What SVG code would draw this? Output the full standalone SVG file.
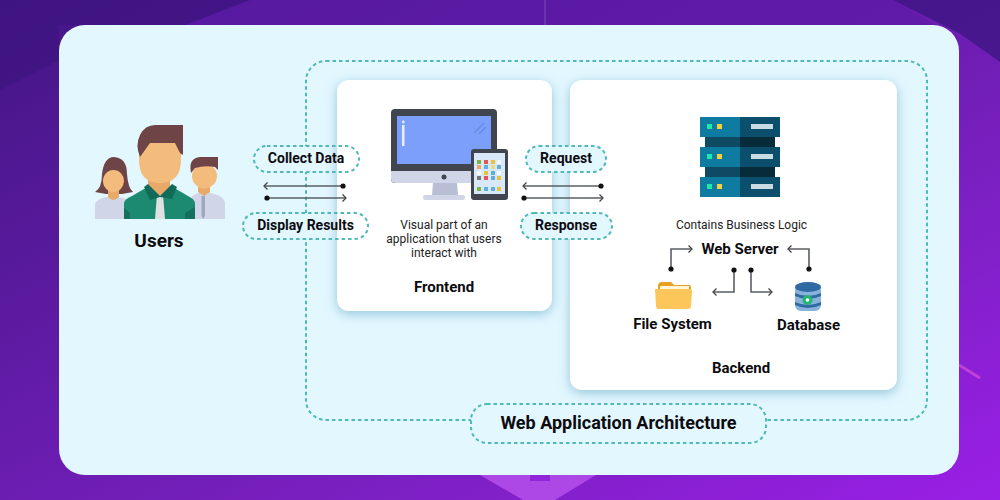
<svg xmlns="http://www.w3.org/2000/svg" width="1000" height="500" viewBox="0 0 1000 500">
<style>
text{font-family:Roboto,"Liberation Sans",sans-serif;fill:#0c0c10;text-anchor:middle}
.b{font-weight:700;font-size:14px}
.m{font-weight:700;font-size:15px}
.n{font-size:12px;fill:#222}
.pf{fill:#e3f7ff}
.ps{fill:none;stroke:#4fb8b8;stroke-width:2;stroke-dasharray:3.500 3}
.c{fill:none;stroke:#5a5f66;stroke-width:1.600}
.card{fill:#fff;filter:url(#sh)}
</style>
<defs>
<linearGradient id="bg" x1="0" y1="0" x2="1" y2="1"><stop offset="0" stop-color="#431685"/><stop offset=".3" stop-color="#5a1a9e"/><stop offset=".7" stop-color="#7d20c4"/><stop offset="1" stop-color="#9a1fe6"/></linearGradient>
<filter id="sh" x="-15%" y="-15%" width="130%" height="130%"><feDropShadow dx="0" dy="3" stdDeviation="6" flood-color="#6fb0cc" flood-opacity=".7"/></filter>
<marker id="dot" markerWidth="6" markerHeight="6" refX="3" refY="3" markerUnits="userSpaceOnUse"><circle cx="3" cy="3" r="2.600" fill="#111"/></marker>
<marker id="arr" markerWidth="8" markerHeight="10" refX="6.500" refY="5" orient="auto-start-reverse" markerUnits="userSpaceOnUse"><path d="M3 1.500L6.500 5L3 8.500" fill="none" stroke="#444" stroke-width="1.300"/></marker>
</defs>
<rect width="1000" height="500" fill="url(#bg)"/>
<path d="M0 0H250L185 25H59V60L0 90Z" fill="#3c1480" opacity=".65"/>
<path d="M893 0H1000V62L959 33Z" fill="#3a1680" opacity=".75"/>
<path d="M250 0H893L935 25H185Z" fill="#5c1ba6" opacity=".7"/>
<path d="M545 0V25" stroke="#7a4bc0" stroke-width="1"/>
<path d="M480 475H596L555 500H523Z" fill="#ad48e6"/>
<path d="M530 475H550V481H530Z" fill="#9026d8"/>
<path d="M959 365L980 378" stroke="#c040d8" stroke-width="3"/>
<rect x="59" y="25" width="900" height="450" rx="26" fill="#e3f7ff"/>
<rect class="ps" x="306" y="61" width="621" height="359" rx="20"/>

<g id="pill-backs">
<rect class="pf" x="254" y="146" width="105" height="26" rx="13"/>
<rect class="pf" x="243" y="213" width="125" height="26" rx="13"/>
</g>
<g id="frontend-card"><rect class="card" x="337" y="80" width="215" height="231" rx="12"/></g>
<g id="backend-card"><rect class="card" x="570" y="80" width="327" height="310" rx="12"/></g>

<g id="users">
<path d="M95 219V204Q97 199 106 197H118Q124 198 128 200V219Z" fill="#d0d6e8"/>
<path d="M95 192Q102 188 102 174Q104 157 114 157Q127 158 127 174Q128 188 133 192L122 194H106Z" fill="#6f4446"/>
<path d="M108 188H119V197Q113 203 108 197Z" fill="#e8a96a"/>
<ellipse cx="113.500" cy="181" rx="10.500" ry="11" fill="#f3bc7d"/>
<path d="M192 219V196L200 192H208L220 196Q225 199 225 204V219Z" fill="#d0d6e8"/>
<path d="M201.500 196H205L205 216L203 219L201.500 216Z" fill="#a0a8c0"/>
<path d="M198 184H210V192L204 196L198 192Z" fill="#e8a96a"/>
<ellipse cx="204.500" cy="176" rx="12.500" ry="12.500" fill="#f3bc7d"/>
<path d="M191 173Q188 158 200 157H218V170L215 167Q205 165 195 168Z" fill="#6f4446"/>
<path d="M124 219V204Q124 199 132 196L144 189H176L188 196Q195 199 195 204V219Z" fill="#1c8a70"/>
<path d="M124 219V208L130 213V219ZM185 219V213L195 207V219Z" fill="#12705c"/>
<path d="M157 195H163L165 219H155Z" fill="#dfe1e3"/>
<path d="M148 175H170V188L160 196L148 188Z" fill="#e8a96a"/>
<path d="M144 187L148 184L160 196L172 184L177 187L172 199L160 197L150 200Z" fill="#126b58"/>
<path d="M139 143H181V160Q181 183 160 183Q139 183 139 160Z" fill="#f3bc7d"/>
<path d="M140 157Q135 145 140 135Q145 125 155 125H183V155L180 153L175 143H150Z" fill="#6e4446"/>
</g>
<text x="159" y="247" style="font-weight:700;font-size:19px">Users</text>

<g id="connectors">
<path class="c" d="M343 186H264" marker-start="url(#dot)" marker-end="url(#arr)"/>
<path class="c" d="M267 198H346" marker-start="url(#dot)" marker-end="url(#arr)"/>
<path class="c" d="M601 186H523" marker-start="url(#dot)" marker-end="url(#arr)"/>
<path class="c" d="M524 198H603" marker-start="url(#dot)" marker-end="url(#arr)"/>
<path class="c" d="M671 269V249H692" marker-start="url(#dot)" marker-end="url(#arr)"/>
<path class="c" d="M809 269V249H788" marker-start="url(#dot)" marker-end="url(#arr)"/>
<path class="c" d="M734 270V292H713" marker-start="url(#dot)" marker-end="url(#arr)"/>
<path class="c" d="M751 270V292H772" marker-start="url(#dot)" marker-end="url(#arr)"/>
</g>

<g id="collect-data"><rect class="ps" x="254" y="146" width="105" height="26" rx="13"/><text class="b" x="306" y="163">Collect Data</text></g>
<g id="display-results"><rect class="ps" x="243" y="213" width="125" height="26" rx="13"/><text class="b" x="305.500" y="230">Display Results</text></g>
<g id="request"><rect class="pf" x="526" y="146" width="80" height="26" rx="13"/><rect class="ps" x="526" y="146" width="80" height="26" rx="13"/><text class="b" x="566" y="163">Request</text></g>
<g id="response"><rect class="pf" x="521" y="213" width="91" height="26" rx="13"/><rect class="ps" x="521" y="213" width="91" height="26" rx="13"/><text class="b" x="566" y="230">Response</text></g>

<g id="monitor">
<rect x="391" y="109" width="106" height="74" rx="4" fill="#41454f"/>
<rect x="397" y="116" width="94" height="48" fill="#7b9ffb"/>
<rect x="402" y="125" width="2.500" height="21" fill="#e8f0ff"/>
<circle cx="403.300" cy="122" r="1.400" fill="#e8f0ff"/>
<path d="M474 133L484 123M479 134L486 127" stroke="#6b8ae0" stroke-width="1.500"/>
<path d="M391 171H497V179Q497 183 492 183H396Q391 183 391 179Z" fill="#d0d6e8"/>
<circle cx="444" cy="177" r="2.500" fill="#41454f"/>
<path d="M433 183H457L458 195H432Z" fill="#b8bed4"/>
<rect x="423" y="195" width="42" height="5" rx="2" fill="#d0d6e8"/>
<rect x="471" y="149" width="37" height="51" rx="3" fill="#41454f"/>
<rect x="474" y="153" width="31" height="41" fill="#d8e8f8"/>
<g fill="#5fb0e0">
<rect x="477" y="160" width="4" height="4" fill="#7cb342"/><rect x="484" y="160" width="4" height="4" fill="#e05555"/><rect x="491" y="160" width="4" height="4" fill="#e8c23c"/><rect x="497" y="160" width="4" height="4" fill="#f4f8fc"/>
<rect x="477" y="165" width="4" height="4" fill="#e8a96a"/><rect x="484" y="165" width="4" height="4"/><rect x="491" y="165" width="4" height="4" fill="#e8d87c"/><rect x="497" y="165" width="4" height="4"/>
<rect x="477" y="171" width="4" height="4" fill="#f4f8fc"/><rect x="484" y="171" width="4" height="4" fill="#e8c23c"/><rect x="491" y="171" width="4" height="4"/><rect x="497" y="171" width="4" height="4" fill="#f4f8fc"/>
<rect x="477" y="176" width="4" height="4" fill="#777"/><rect x="484" y="176" width="4" height="4" fill="#e05555"/><rect x="491" y="176" width="4" height="4"/><rect x="497" y="176" width="4" height="4" fill="#e8c23c"/>
<rect x="477" y="187" width="4" height="4" fill="#7cb342"/><rect x="484" y="187" width="4" height="4"/><rect x="491" y="187" width="4" height="4"/><rect x="497" y="187" width="4" height="4" fill="#e8c23c"/>
</g>
</g>
<text class="n" x="444" y="229">Visual part of an</text>
<text class="n" x="444" y="243">application that users</text>
<text class="n" x="444" y="257">interact with</text>
<text class="m" x="444" y="292">Frontend</text>

<g id="server">
<rect x="705" y="137" width="35" height="10" fill="#0f4a63"/><rect x="740" y="137" width="35" height="10" fill="#082b3a"/>
<rect x="705" y="167" width="35" height="10" fill="#0f4a63"/><rect x="740" y="167" width="35" height="10" fill="#082b3a"/>
<g><rect x="700" y="117" width="40" height="20" fill="#0f7ba1"/><rect x="740" y="117" width="40" height="20" fill="#0c4f6d"/><rect x="707" y="124" width="5" height="5" fill="#1de9a8"/><rect x="717" y="124" width="5" height="5" fill="#f3d03e"/><rect x="751" y="124" width="22" height="5" fill="#c9dbe2"/></g>
<g><rect x="700" y="147" width="40" height="20" fill="#0f7ba1"/><rect x="740" y="147" width="40" height="20" fill="#0c4f6d"/><rect x="707" y="154" width="5" height="5" fill="#1de9a8"/><rect x="717" y="154" width="5" height="5" fill="#f3d03e"/><rect x="751" y="154" width="22" height="5" fill="#c9dbe2"/></g>
<g><rect x="700" y="177" width="40" height="20" fill="#0f7ba1"/><rect x="740" y="177" width="40" height="20" fill="#0c4f6d"/><rect x="707" y="184" width="5" height="5" fill="#1de9a8"/><rect x="717" y="184" width="5" height="5" fill="#f3d03e"/><rect x="751" y="184" width="22" height="5" fill="#c9dbe2"/></g>
</g>
<text class="n" x="741.500" y="229">Contains Business Logic</text>
<text class="m" x="740" y="254">Web Server</text>

<g id="folder">
<path d="M658 286Q658 282 662 282H671L674 285H689Q691 285 691 288V295H658Z" fill="#e8a020"/>
<rect x="660" y="286" width="29" height="6" fill="#fff4d8"/>
<path d="M655 289H690Q692 289 692 291L691 306Q691 309 688 309H659Q656 309 656 306Z" fill="#fcc65a"/>
</g>
<text class="m" x="672.500" y="329">File System</text>

<g id="database">
<rect x="795" y="284" width="26" height="27" rx="6" fill="#87b2dc"/>
<ellipse cx="808" cy="287" rx="13" ry="5" fill="#2f6aa3"/>
<path d="M795 293Q808 299 821 293V296Q808 302 795 296ZM795 302Q808 308 821 302V305Q808 311 795 305Z" fill="#2f6aa3"/>
<circle cx="807.500" cy="300" r="5" fill="#24b573"/><circle cx="807.500" cy="300" r="1.800" fill="#fff"/>
</g>
<text class="m" x="808.500" y="330">Database</text>
<text class="m" x="741" y="373">Backend</text>

<g id="web-application-architecture"><rect class="pf" x="471" y="404" width="295" height="39" rx="16"/><rect class="ps" x="471" y="404" width="295" height="39" rx="16"/><text x="618.500" y="429" style="font-weight:700;font-size:18px">Web Application Architecture</text></g>
</svg>
